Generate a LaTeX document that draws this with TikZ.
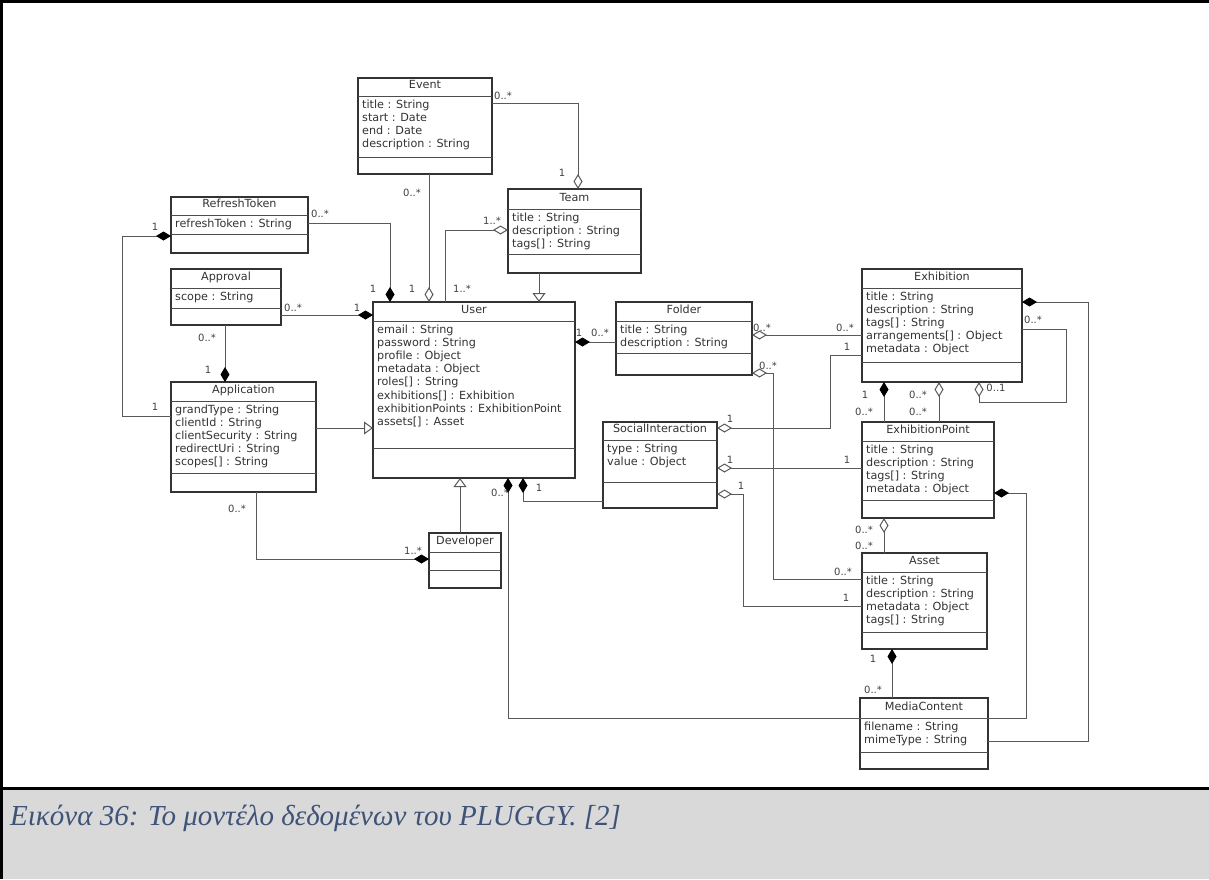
\documentclass[tikz,border=0pt]{standalone}
\usepackage{fontspec}
\newfontfamily\umlfont{DejaVu Sans}
\newfontfamily\capfont{Liberation Serif}
\usetikzlibrary{arrows.meta, fit, calc}

\definecolor{capgray}{HTML}{D9D9D9}
\definecolor{capblue}{HTML}{3F5378}

% class box: name, (left,top), (right,bottom), sep1 y, sep2 y, title, attributes
\newcommand{\umlclass}[7]{%
  \coordinate (#1-nw) at #2;
  \coordinate (#1-se) at #3;
  \node[classbox, fit=(#1-nw)(#1-se)] (#1) {};
  \draw[classline] (#1-nw |- 0,#4) -- (#1-se |- 0,#4);
  \draw[classline] (#1-nw |- 0,#5) -- (#1-se |- 0,#5);
  \node[classtitle] (#1-name) at (#1.north |- 0,{#4-7.5}) {#6};
  \foreach \a [count=\i] in {#7}
    \node[attr] (#1-a\i) at ($(#1-nw |- 0,{#4+12+13.2*(\i-1)})+(4,0)$) {\a};
}

\begin{document}
\begin{tikzpicture}[%
    x=1pt, y=-1pt,
    classbox/.style={draw=black!80, line width=1.2pt, fill=white, inner sep=0pt, outer sep=0pt},
    classline/.style={draw=black!70, line width=0.9pt},
    classtitle/.style={anchor=base, inner sep=0pt, text=black!80,
      font=\umlfont\fontsize{11.2}{13}\selectfont},
    attr/.style={anchor=base west, inner sep=0pt, text=black!80,
      font=\umlfont\fontsize{11.2}{13}\selectfont},
    link/.style={draw=black!65, line width=1pt},
    mult/.style={inner sep=0pt, text=black!75, font=\umlfont\fontsize{10}{12}\selectfont},
    caption/.style={anchor=west, inner sep=0pt, text=capblue,
      font=\capfont\itshape\fontsize{29}{33}\selectfont},
    comp/.tip={Diamond[length=15pt, width=9pt, color=black]},
    aggr/.tip={Diamond[open, length=15pt, width=9pt]},
    gen/.tip={Triangle[open, length=9pt, width=13pt]}
  ]

  \useasboundingbox (0,0) rectangle (1209,879);
  \fill[white] (0,0) rectangle (1209,879);
  \fill[capgray] (0,788) rectangle (1209,879);
  \draw[line width=3pt] (0,788) -- (1209,788);
  \draw[line width=3pt] (0,1.5) -- (1209,1.5);
  \draw[line width=3pt] (1.5,0) -- (1.5,879);

  % classes
  \umlclass{Event}{(358,78)}{(492,174)}{96}{157}{Event}
    {title : String, start : Date, end : Date, description : String}
  \umlclass{RefreshToken}{(171,197)}{(308,253)}{215}{234}{RefreshToken}
    {refreshToken : String}
  \umlclass{Approval}{(171,269)}{(281,325)}{288}{308}{Approval}
    {scope : String}
  \umlclass{Application}{(171,382)}{(316,492)}{401}{473}{Application}
    {grandType : String, clientId : String, clientSecurity : String,
     redirectUri : String, scopes[] : String}
  \umlclass{Team}{(508,189)}{(641,273)}{209}{254}{Team}
    {title : String, description : String, tags[] : String}
  \umlclass{User}{(373,302)}{(575,478)}{321}{448}{User}
    {email : String, password : String, profile : Object, metadata : Object,
     roles[] : String, exhibitions[] : Exhibition,
     exhibitionPoints : ExhibitionPoint, assets[] : Asset}
  \umlclass{Developer}{(429,533)}{(501,588)}{552}{570}{Developer}{}
  \umlclass{Folder}{(616,302)}{(752,375)}{321}{353}{Folder}
    {title : String, description : String}
  \umlclass{Exhibition}{(862,269)}{(1022,382)}{288}{362}{Exhibition}
    {title : String, description : String, tags[] : String,
     arrangements[] : Object, metadata : Object}
  \umlclass{SocialInteraction}{(603,422)}{(717,508)}{440}{482}{SocialInteraction}
    {type : String, value : Object}
  \umlclass{ExhibitionPoint}{(862,422)}{(994,518)}{441}{500}{ExhibitionPoint}
    {title : String, description : String, tags[] : String, metadata : Object}
  \umlclass{Asset}{(862,553)}{(987,649)}{572}{632}{Asset}
    {title : String, description : String, metadata : Object, tags[] : String}
  \umlclass{MediaContent}{(860,698)}{(988,769)}{718}{752}{MediaContent}
    {filename : String, mimeType : String}

  % associations
  \draw[link, -aggr] (Event.east |- 0,103) -| (Team.north -| 578,0);
  \draw[link, -aggr] (Event.south -| 429,0) -- (User.north -| 429,0);
  \draw[link, -comp] (RefreshToken.east |- 0,223) -| (User.north -| 390,0);
  \draw[link, aggr-] (Team.west |- 0,230) -| (User.north -| 445,0);
  \draw[link, -gen] (Team.south -| 539,0) -- (User.north -| 539,0);
  \draw[link, -comp] (Approval.east |- 0,315) -- (User.west |- 0,315);
  \draw[link, -comp] (Approval.south -| 225,0) -- (Application.north -| 225,0);
  \draw[link, comp-] (RefreshToken.west |- 0,236) -- (122,236)
    |- (Application.west |- 0,416);
  \draw[link, -gen] (Application.east |- 0,428) -- (User.west |- 0,428);
  \draw[link, -comp] (Application.south -| 256,0) |- (Developer.west |- 0,559);
  \draw[link, -gen] (Developer.north -| 460,0) -- (User.south -| 460,0);
  \draw[link, comp-] (User.east |- 0,342) -- (Folder.west |- 0,342);
  \draw[link, aggr-] (Folder.east |- 0,335) -- (Exhibition.west |- 0,335);
  \draw[link, -aggr] (Exhibition.west |- 0,355) -| (830,428)
    -- (SocialInteraction.east |- 0,428);
  \draw[link, -aggr] (ExhibitionPoint.west |- 0,468) -- (SocialInteraction.east |- 0,468);
  \draw[link, -aggr] (Asset.west |- 0,606) -| (743,494)
    -- (SocialInteraction.east |- 0,494);
  \draw[link, aggr-] (Folder.east |- 0,373) -| (773,579) -- (Asset.west |- 0,579);
  \draw[link, comp-] (Exhibition.south -| 884,0) -- (ExhibitionPoint.north -| 884,0);
  \draw[link, aggr-] (Exhibition.south -| 939,0) -- (ExhibitionPoint.north -| 939,0);
  \draw[link, -aggr] (Exhibition.east |- 0,329) -- (1066,329) |- (979,402)
    -- (Exhibition.south -| 979,0);
  \draw[link, -comp] (MediaContent.east |- 0,741) -| (1088,302)
    -- (Exhibition.east |- 0,302);
  \draw[link, comp-comp] (User.south -| 508,0) |- (1026,718)
    |- (ExhibitionPoint.east |- 0,493);
  \draw[link, comp-] (User.south -| 523,0) |- (SocialInteraction.west |- 0,501);
  \draw[link, aggr-] (ExhibitionPoint.south -| 884,0) -- (Asset.north -| 884,0);
  \draw[link, comp-] (Asset.south -| 892,0) -- (MediaContent.north -| 892,0);

  % multiplicities
  \foreach \x/\y/\m [count=\k] in {
      503/96/0..*, 562/173/1, 412/193/0..*, 412/289/1, 320/214/0..*,
      373/289/1, 492/221/1..*, 462/289/1..*, 293/308/0..*, 357/308/1,
      207/338/0..*, 208/370/1, 155/227/1, 155/407/1, 237/509/0..*,
      413/551/1..*, 579/333/1, 600/333/0..*, 762/328/0..*, 845/328/0..*,
      847/347/1, 730/419/1, 730/460/1, 847/460/1, 741/486/1, 846/598/1,
      768/366/0..*, 843/572/0..*, 865/395/1, 864/412/0..*, 918/395/0..*,
      918/412/0..*, 1033/320/0..*, 996/388/0..1, 500/493/0..*, 539/488/1,
      864/530/0..*, 864/546/0..*, 873/659/1, 873/690/0..*}
    \node[mult] (mult\k) at (\x,\y) {\m};

  \node[caption] (caption) at (10,818) {Εικόνα 36: Το μοντέλο δεδομένων του PLUGGY. [2]};
\end{tikzpicture}
\end{document}
